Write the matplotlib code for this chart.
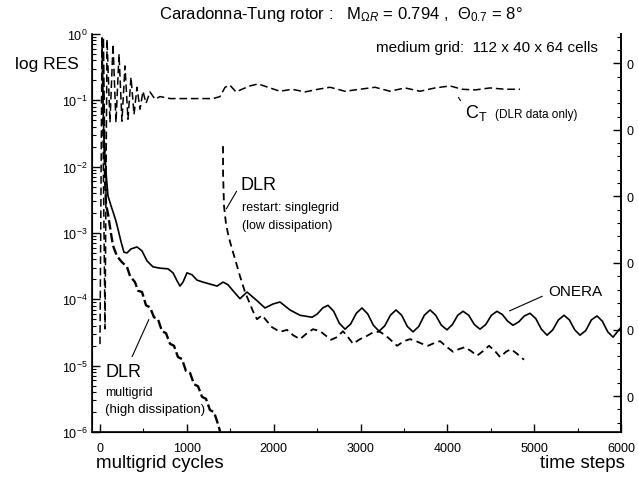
import numpy as np
import matplotlib.pyplot as plt
from matplotlib.ticker import LogLocator, MultipleLocator, NullFormatter

plt.rcParams['font.family'] = ['Liberation Sans', 'DejaVu Sans']
plt.rcParams['mathtext.fontset'] = 'custom'
plt.rcParams['mathtext.rm'] = 'Liberation Sans'
plt.rcParams['mathtext.it'] = 'Liberation Sans:italic'

# ONERA residual over time steps (log10 RES)
onera_steps = [23, 35, 46, 69, 92, 127, 150, 184, 207, 242, 276, 311, 357, 426, 484,
               541, 610, 691, 783, 841, 887, 921, 956, 1002, 1060, 1117, 1186, 1267,
               1348, 1417, 1474, 1532, 1612, 1693, 1808, 1900, 1992, 2073, 2188, 2303,
               2442, 2503, 2565, 2626, 2691, 2756, 2822, 2887, 2952, 3017, 3083, 3148,
               3213, 3279, 3344, 3409, 3474, 3540, 3605, 3670, 3735, 3801, 3866, 3931,
               3996, 4058, 4120, 4181, 4246, 4311, 4376, 4442, 4507, 4572, 4634, 4695,
               4757, 4822, 4887, 4952, 5018, 5083, 5148, 5214, 5279, 5344, 5405, 5467,
               5528, 5594, 5659, 5724, 5785, 5847, 5908, 6000]
onera_log_res = [-0.07, -1.05, -1.58, -2.08, -2.44, -2.59, -2.68, -2.82, -2.94, -3.13,
                 -3.29, -3.30, -3.24, -3.21, -3.27, -3.42, -3.51, -3.53, -3.54, -3.60,
                 -3.72, -3.80, -3.74, -3.60, -3.63, -3.71, -3.74, -3.77, -3.80, -3.74,
                 -3.78, -3.87, -3.99, -3.89, -4.02, -4.13, -4.07, -4.04, -4.16, -4.24,
                 -4.27, -4.22, -4.13, -4.09, -4.18, -4.36, -4.45, -4.37, -4.21, -4.13,
                 -4.22, -4.39, -4.48, -4.40, -4.24, -4.16, -4.24, -4.41, -4.49, -4.41,
                 -4.24, -4.16, -4.24, -4.39, -4.46, -4.38, -4.24, -4.18, -4.24, -4.38,
                 -4.45, -4.38, -4.24, -4.18, -4.23, -4.33, -4.39, -4.34, -4.25, -4.21,
                 -4.29, -4.45, -4.54, -4.46, -4.31, -4.24, -4.31, -4.46, -4.54, -4.47,
                 -4.31, -4.25, -4.33, -4.49, -4.57, -4.42]

# DLR multigrid (high dissipation), multigrid cycles
dlr_mg_cycles = [35, 46, 58, 69, 92, 127, 150, 196, 253, 311, 346, 403, 438, 484, 530,
                 576, 622, 668, 714, 760, 806, 852, 898, 944, 990, 1037, 1083, 1129,
                 1175, 1221, 1267, 1313, 1359, 1382]
dlr_mg_log_res = [-0.07, -1.28, -2.18, -2.56, -2.71, -3.01, -3.19, -3.35, -3.44, -3.51,
                  -3.65, -3.74, -3.87, -3.89, -4.09, -4.12, -4.27, -4.30, -4.48, -4.51,
                  -4.67, -4.70, -4.87, -4.90, -5.08, -5.11, -5.28, -5.31, -5.47, -5.50,
                  -5.67, -5.70, -5.88, -5.99]

# DLR restart, singlegrid (low dissipation), time steps
dlr_sg_steps = [1417, 1417, 1428, 1451, 1474, 1497, 1532, 1566, 1612, 1670, 1728, 1762,
                1808, 1866, 1923, 1981, 2073, 2154, 2223, 2303, 2384, 2453, 2534, 2603,
                2660, 2729, 2798, 2856, 2914, 2994, 3075, 3156, 3225, 3294, 3363, 3421,
                3501, 3570, 3640, 3709, 3778, 3847, 3916, 3996, 4065, 4135, 4204, 4273,
                4342, 4411, 4480, 4549, 4607, 4676, 4733, 4802, 4883]
dlr_sg_log_res = [-1.69, -2.08, -2.59, -2.86, -3.01, -3.13, -3.29, -3.44, -3.65, -3.89,
                  -4.07, -4.18, -4.30, -4.24, -4.33, -4.42, -4.49, -4.46, -4.54, -4.60,
                  -4.51, -4.45, -4.48, -4.55, -4.61, -4.57, -4.48, -4.57, -4.67, -4.60,
                  -4.55, -4.49, -4.49, -4.55, -4.63, -4.70, -4.63, -4.60, -4.63, -4.67,
                  -4.70, -4.66, -4.63, -4.72, -4.79, -4.75, -4.72, -4.78, -4.85, -4.78,
                  -4.70, -4.78, -4.87, -4.79, -4.75, -4.82, -4.91]

# thrust coefficient, DLR data only (right axis)
ct_steps = [0, 23, 58, 81, 115, 150, 184, 219, 253, 288, 322, 357, 392, 426, 461, 495,
            530, 576, 634, 691, 806, 1037, 1301, 1382, 1440, 1497, 1566, 1635, 1727,
            1820, 1935, 2073, 2211, 2361, 2511, 2649, 2822, 2994, 3167, 3340, 3513,
            3685, 3858, 4031, 4169, 4319, 4492, 4664, 4837]
ct_values = [0.178, 0.641, 0.201, 0.636, 0.511, 0.629, 0.511, 0.614, 0.513, 0.596,
             0.516, 0.579, 0.523, 0.564, 0.531, 0.558, 0.540, 0.557, 0.546, 0.550,
             0.547, 0.547, 0.547, 0.550, 0.564, 0.567, 0.557, 0.561, 0.566, 0.569,
             0.564, 0.558, 0.561, 0.557, 0.561, 0.564, 0.558, 0.561, 0.564, 0.558,
             0.563, 0.558, 0.563, 0.566, 0.561, 0.560, 0.563, 0.561, 0.561]

x_ticks = [0, 1000, 2000, 3000, 4000, 5000, 6000]
ct_ticks = [0.1, 0.2, 0.3, 0.4, 0.5, 0.6]

fig = plt.figure(figsize=(6.38, 4.85), dpi=100)
ax = fig.add_axes([0.1442, 0.1072, 0.8292, 0.8206])

ax.plot(onera_steps, 10 ** np.array(onera_log_res), color='black', lw=1.2)
ax.plot(dlr_mg_cycles, 10 ** np.array(dlr_mg_log_res), color='black', lw=1.7,
        dashes=(4, 1.5))
ax.plot(dlr_sg_steps, 10 ** np.array(dlr_sg_log_res), color='black', lw=1.3,
        dashes=(4, 2.5))

ax.set_yscale('log')
ax.set_ylim(1e-6, 1)
ax.set_xlim(-92, 6000)
ax.set_xticks(x_ticks)
ax.xaxis.set_minor_locator(MultipleLocator(500))
ax.yaxis.set_major_locator(LogLocator(base=10, numticks=10))
ax.yaxis.set_minor_locator(LogLocator(base=10, subs=np.arange(2, 10), numticks=20))
ax.yaxis.set_minor_formatter(NullFormatter())
ax.tick_params(axis='both', which='major', direction='in', length=6, width=1,
               labelsize=9, colors='black')
ax.tick_params(axis='both', which='minor', direction='in', length=3, width=0.8)
ax.tick_params(axis='x', pad=7)
ax.tick_params(axis='y', pad=3)
ax.spines['top'].set_visible(False)
for s in ['left', 'bottom', 'right']:
    ax.spines[s].set_linewidth(1.2)

ax2 = ax.twinx()
ax2.plot(ct_steps, ct_values, color='black', lw=1.1, dashes=(5, 2.5))
ax2.set_ylim(0.046, 0.644)
ax2.set_yticks(ct_ticks)
ax2.set_yticklabels(['0'] * len(ct_ticks))
ax2.yaxis.set_minor_locator(MultipleLocator(0.02))
ax2.tick_params(axis='y', which='major', direction='in', length=6, width=1,
                labelsize=9, pad=4)
ax2.tick_params(axis='y', which='minor', direction='in', length=3, width=0.8)
ax2.spines['top'].set_visible(False)
ax2.spines['right'].set_linewidth(1.2)

# annotations
ax.text(0.280, 0.621, 'DLR', transform=ax.transAxes, fontsize=13, va='center')
ax.text(0.2836, 0.565, 'restart: singlegrid', transform=ax.transAxes, fontsize=9,
        va='center')
ax.text(0.2836, 0.520, '(low dissipation)', transform=ax.transAxes, fontsize=9,
        va='center')
ax.annotate('', xy=(0.2514, 0.555), xytext=(0.276, 0.611), xycoords='axes fraction',
            arrowprops=dict(arrowstyle='-', color='black', lw=0.8))

ax.text(0.862, 0.354, 'ONERA', transform=ax.transAxes, fontsize=11, va='center')
ax.annotate('', xy=(0.7845, 0.3015), xytext=(0.856, 0.344), xycoords='axes fraction',
            arrowprops=dict(arrowstyle='-', color='black', lw=0.8))

ax.text(0.0246, 0.153, 'DLR', transform=ax.transAxes, fontsize=13, va='center')
ax.text(0.0246, 0.1005, 'multigrid', transform=ax.transAxes, fontsize=9, va='center')
ax.text(0.0246, 0.058, '(high dissipation)', transform=ax.transAxes, fontsize=9.5,
        va='center')
ax.annotate('', xy=(0.1096, 0.289), xytext=(0.0737, 0.183), xycoords='axes fraction',
            arrowprops=dict(arrowstyle='-', color='black', lw=0.8))

ax.text(0.706, 0.805, r'C$_{\mathrm{T}}$', transform=ax.transAxes, fontsize=13,
        va='center')
ax.text(0.762, 0.800, '(DLR data only)', transform=ax.transAxes, fontsize=8.5,
        va='center')
ax.annotate('', xy=(0.690, 0.8467), xytext=(0.6994, 0.8266), xycoords='axes fraction',
            arrowprops=dict(arrowstyle='-', color='black', lw=0.8))

ax.text(0.9565, 0.967, 'medium grid:  112 x 40 x 64 cells', transform=ax.transAxes,
        fontsize=11, ha='right', va='center')

fig.text(0.535, 0.971,
         r'Caradonna-Tung rotor :   M$_{\Omega R}$ = 0.794 ,  $\Theta_{0.7}$ = 8°',
         fontsize=12, ha='center', va='center')
fig.text(0.0235, 0.866, 'log RES', fontsize=12.5, ha='left', va='center')
fig.text(0.150, 0.045, 'multigrid cycles', fontsize=13.5, ha='left', va='center')
fig.text(0.98, 0.045, 'time steps', fontsize=13.5, ha='right', va='center')

fig.savefig('out.png', dpi=100)
